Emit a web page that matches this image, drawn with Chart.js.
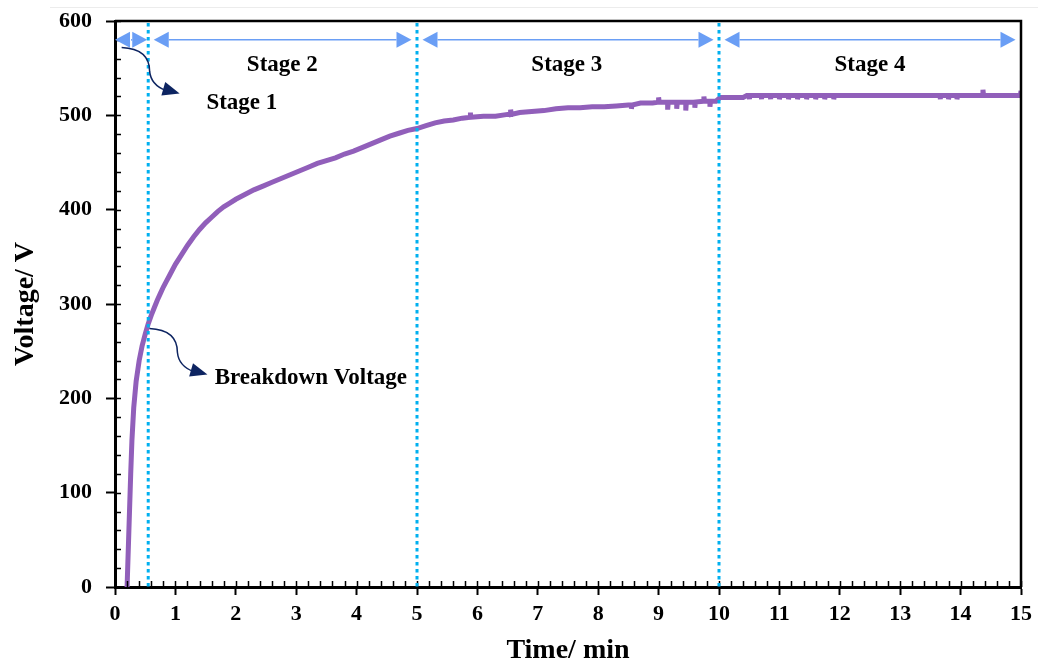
<!DOCTYPE html>
<html>
<head>
<meta charset="utf-8">
<script src="https://cdn.jsdelivr.net/npm/chart.js@4/dist/chart.umd.min.js"></script>
<style>
  html, body { margin: 0; padding: 0; background: #fff; }
  #wrap { width: 1038px; height: 668px; position: relative; }
</style>
</head>
<body>
<div id="wrap"><canvas id="c" width="1038" height="668"></canvas></div>
<script>
// ---- data ----
const timeMin = [
  0.20,0.23,0.26,0.28,0.31,0.35,0.40,0.45,0.50,0.55,
  0.60,0.65,0.70,0.75,0.80,0.85,0.90,0.95,1.00,1.10,
  1.20,1.30,1.40,1.50,1.60,1.70,1.80,1.90,2.00,2.15,
  2.30,2.45,2.60,2.75,2.90,3.05,3.20,3.35,3.50,3.65,
  3.80,3.95,4.10,4.25,4.40,4.55,4.70,4.85,5.00,5.15,
  5.30,5.45,5.60,5.75,5.88,5.88,5.89,6.10,6.30,6.50,
  6.55,6.55,6.56,6.70,6.90,7.10,7.30,7.50,7.70,7.90,
  8.10,8.30,8.50,8.55,8.55,8.56,8.70,8.90,9.00,9.00,
  9.01,9.10,9.15,9.15,9.16,9.30,9.30,9.31,9.45,9.45,
  9.46,9.60,9.60,9.61,9.75,9.75,9.76,9.85,9.85,9.86,
  9.95,10.02,10.40,10.46,10.50,10.50,10.51,10.70,10.70,10.71,
  10.85,10.85,10.86,11.00,11.00,11.01,11.15,11.15,11.16,11.30,
  11.30,11.31,11.45,11.45,11.46,11.60,11.60,11.61,11.75,11.75,
  11.76,11.90,11.90,11.91,12.50,13.00,13.66,13.66,13.67,13.80,
  13.80,13.81,13.94,13.94,13.95,14.37,14.37,14.38,14.99,15.00
];
const voltage = [
  0,60,120,155,190,218,240,256,268,279,
  288,296,304,311,318,324,330,336,342,352,
  362,371,379,386,392,398,403,407,411,416,
  421,425,429,433,437,441,445,449,452,455,
  459,462,466,470,474,478,481,484,486,489,
  492,494,495,497,498,503,498,499,499,501,
  501,506,501,503,504,505,507,508,508,509,
  509,510,511,511,507,511,513,513,514,519,
  514,514,514,506,514,514,507,514,514,505,
  514,514,508,514,515,520,515,515,509,515,
  515,519,519,521,521,517,521,521,517,521,
  521,517,521,521,517,521,521,517,521,521,
  517,521,521,517,521,521,517,521,521,517,
  521,521,517,521,521,521,521,517,521,521,
  517,521,521,517,521,521,527,521,521,526
];
const xTicks = { min: 0, max: 15, step: 1, minorStep: 0.2 };
const yTicks = { min: 0, max: 600, step: 100, minorStep: 20 };
const stageBounds = [0, 0.55, 5, 10, 15];
const stageLabels = ['Stage 1', 'Stage 2', 'Stage 3', 'Stage 4'];
const xTitle = 'Time/ min';
const yTitle = 'Voltage/ V';
const breakdownLabel = 'Breakdown Voltage';

const FONT = '"Liberation Serif", "Times New Roman", serif';
const points = timeMin.map((t, i) => ({ x: t, y: voltage[i] }));

function arrowHead(ctx, tipX, tipY, dirX, dirY, len, half) {
  const bx = tipX - dirX * len, by = tipY - dirY * len;
  const nx = -dirY, ny = dirX;
  ctx.beginPath();
  ctx.moveTo(tipX, tipY);
  ctx.lineTo(bx + nx * half, by + ny * half);
  ctx.lineTo(bx - nx * half, by - ny * half);
  ctx.closePath();
  ctx.fill();
}

const decor = {
  id: 'decor',
  beforeDraw(chart) {
    const ctx = chart.ctx;
    ctx.save();
    ctx.fillStyle = '#fff';
    ctx.fillRect(0, 0, chart.width, chart.height);
    ctx.strokeStyle = '#ececec';
    ctx.lineWidth = 1;
    ctx.beginPath(); ctx.moveTo(50, 7.5); ctx.lineTo(chart.width, 7.5); ctx.stroke();
    ctx.restore();
  },
  afterDatasetsDraw(chart) {
    const ctx = chart.ctx;
    const xs = chart.scales.x, ys = chart.scales.y;
    const a = chart.chartArea;
    ctx.save();

    // minor ticks (inside)
    ctx.strokeStyle = '#000';
    ctx.lineWidth = 1.5;
    ctx.beginPath();
    for (let v = xTicks.min; v <= xTicks.max + 1e-9; v += xTicks.minorStep) {
      const px = Math.round(xs.getPixelForValue(v)) + 0.5;
      ctx.moveTo(px, a.bottom); ctx.lineTo(px, a.bottom - 6);
    }
    for (let v = yTicks.min; v <= yTicks.max + 1e-9; v += yTicks.minorStep) {
      const py = Math.round(ys.getPixelForValue(v)) + 0.5;
      ctx.moveTo(a.left, py); ctx.lineTo(a.left + 6, py);
    }
    ctx.stroke();

    // frame top & right
    ctx.lineWidth = 2.5;
    ctx.beginPath();
    ctx.moveTo(a.left, a.top); ctx.lineTo(a.right, a.top); ctx.lineTo(a.right, a.bottom);
    ctx.stroke();

    // dotted stage dividers
    ctx.strokeStyle = '#00b0f0';
    ctx.lineWidth = 3;
    ctx.setLineDash([3.5, 3.5]);
    for (let i = 1; i < stageBounds.length - 1; i++) {
      const px = xs.getPixelForValue(stageBounds[i]);
      ctx.beginPath(); ctx.moveTo(px, a.top + 2); ctx.lineTo(px, a.bottom); ctx.stroke();
    }
    ctx.setLineDash([]);

    // stage double arrows
    const ay = ys.getPixelForValue(580);
    ctx.strokeStyle = '#6a9ef5';
    ctx.fillStyle = '#6a9ef5';
    ctx.lineWidth = 1.5;
    for (let i = 0; i < stageBounds.length - 1; i++) {
      const x0 = xs.getPixelForValue(stageBounds[i]) + (i === 0 ? 0 : 5.5);
      const x1 = xs.getPixelForValue(stageBounds[i + 1]) - (i === 0 ? 1 : 5.5);
      const len = Math.min(15, (x1 - x0) / 2);
      ctx.beginPath(); ctx.moveTo(x0 + len, ay); ctx.lineTo(x1 - len, ay); ctx.stroke();
      arrowHead(ctx, x0, ay, -1, 0, len, 8);
      arrowHead(ctx, x1, ay, 1, 0, len, 8);
      if (i === 0) {
        ctx.strokeStyle = '#fff'; ctx.lineWidth = 1;
        ctx.beginPath(); ctx.moveTo(x0 + len + 0.5, ay - 8); ctx.lineTo(x0 + len + 0.5, ay + 8); ctx.stroke();
        ctx.strokeStyle = '#6a9ef5'; ctx.lineWidth = 1.5;
      }
    }

    // stage labels
    ctx.fillStyle = '#000';
    ctx.font = 'bold 23px ' + FONT;
    ctx.textAlign = 'center';
    ctx.textBaseline = 'middle';
    const labelPos = [[2.10, 513], [2.77, 553], [7.48, 553], [12.5, 553]];
    stageLabels.forEach((s, i) => {
      ctx.fillText(s, xs.getPixelForValue(labelPos[i][0]), ys.getPixelForValue(labelPos[i][1]));
    });
    ctx.textAlign = 'left';
    ctx.fillText(breakdownLabel, xs.getPixelForValue(1.65), ys.getPixelForValue(221));

    // curved navy pointers
    ctx.strokeStyle = '#0d2461';
    ctx.fillStyle = '#0d2461';
    ctx.lineWidth = 1.5;
    function pointer(t, v) {
      const sx = xs.getPixelForValue(t), sy = ys.getPixelForValue(v);
      ctx.beginPath();
      ctx.moveTo(sx, sy);
      ctx.bezierCurveTo(sx + 22, sy + 1, sx + 28, sy + 12, sx + 28, sy + 24);
      ctx.bezierCurveTo(sx + 29, sy + 34, sx + 36, sy + 40, sx + 44, sy + 43);
      ctx.stroke();
      const d = Math.hypot(14, 4);
      arrowHead(ctx, sx + 58, sy + 46, 14 / d, 4 / d, 17, 7);
    }
    pointer(0.11, 572);
    pointer(0.57, 274);
    ctx.restore();
  }
};

new Chart(document.getElementById('c'), {
  type: 'line',
  data: {
    datasets: [{
      data: points,
      borderColor: '#915fba',
      borderWidth: 5,
      pointRadius: 0,
      tension: 0,
      fill: false
    }]
  },
  options: {
    responsive: false,
    animation: false,
    layout: { padding: { top: 21, right: 17, left: 0, bottom: 0 } },
    plugins: { legend: { display: false }, tooltip: { enabled: false } },
    scales: {
      x: {
        type: 'linear', min: xTicks.min, max: xTicks.max,
        afterFit(s) { s.height = 81; s.paddingLeft = 0; s.paddingRight = 0; },
        ticks: {
          stepSize: xTicks.step, color: '#000', padding: 6, maxRotation: 0,
          font: { family: FONT, size: 22, weight: 'bold' }
        },
        grid: { drawOnChartArea: false, drawTicks: true, tickLength: 8, tickColor: '#000', tickWidth: 2 },
        border: { color: '#000', width: 3 },
        title: {
          display: true, text: xTitle, color: '#000',
          font: { family: FONT, size: 28, weight: 'bold' },
          padding: { top: 0, bottom: 0 }
        }
      },
      y: {
        type: 'linear', min: yTicks.min, max: yTicks.max,
        afterFit(s) { s.width = 115; s.paddingTop = 0; s.paddingBottom = 0; },
        ticks: {
          stepSize: yTicks.step, color: '#000', padding: 14,
          font: { family: FONT, size: 22, weight: 'bold' }
        },
        grid: { drawOnChartArea: false, drawTicks: true, tickLength: 9, tickColor: '#000', tickWidth: 2 },
        border: { color: '#000', width: 3 },
        title: {
          display: true, text: yTitle, color: '#000',
          font: { family: FONT, size: 28, weight: 'bold' },
          padding: { top: 9, bottom: 0 }
        }
      }
    }
  },
  plugins: [decor]
});
</script>
</body>
</html>
